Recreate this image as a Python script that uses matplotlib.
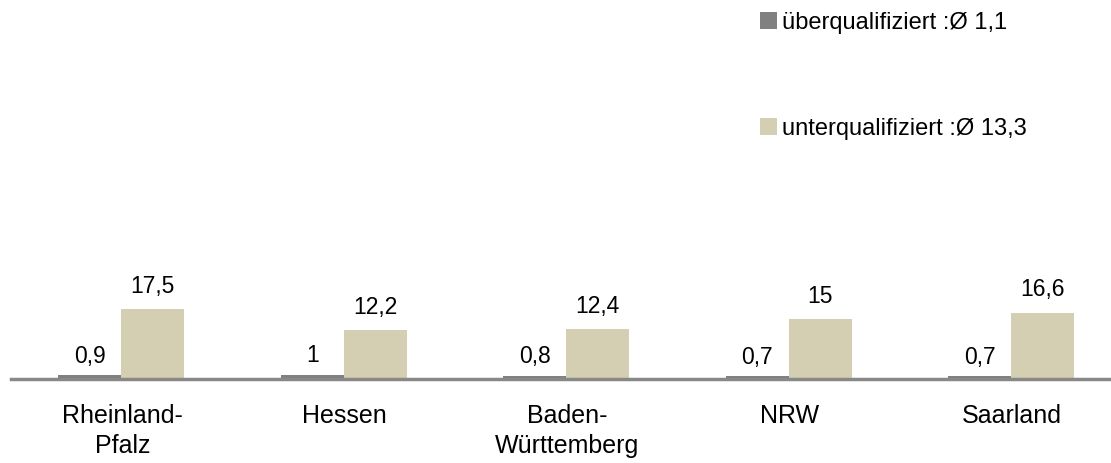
import matplotlib
matplotlib.use("Agg")
import matplotlib.pyplot as plt
import numpy as np

plt.rcParams['font.family'] = ['Liberation Sans', 'DejaVu Sans']

categories = ["Rheinland-\nPfalz", "Hessen", "Baden-\nWürttemberg", "NRW", "Saarland"]
ueber = [0.9, 1.0, 0.8, 0.7, 0.7]
unter = [17.5, 12.2, 12.4, 15.0, 16.6]
ueber_labels = ["0,9", "1", "0,8", "0,7", "0,7"]
unter_labels = ["17,5", "12,2", "12,4", "15", "16,6"]
legend_labels = ["überqualifiziert :Ø 1,1", "unterqualifiziert :Ø 13,3"]

c_ueber = "#808080"
c_unter = "#D4CFB3"

W, H = 1111, 463
fig = plt.figure(figsize=(W/100, H/100), dpi=100)
ax = fig.add_axes([11/W, (H-379)/H, 1112.5/W, 379/H])

x = np.arange(len(categories))
bw = 0.283
b1 = ax.bar(x - bw/2 - 0.005, ueber, bw, color=c_ueber, label=legend_labels[0])
b2 = ax.bar(x + bw/2 - 0.005, unter, bw, color=c_unter, label=legend_labels[1])

for rect, lab in zip(b1, ueber_labels):
    ax.annotate(lab, (rect.get_x() + rect.get_width()/2, rect.get_height()),
                xytext=(0, 5.5), textcoords="offset points", ha="center", va="bottom", fontsize=16.5)
for rect, lab in zip(b2, unter_labels):
    ax.annotate(lab, (rect.get_x() + rect.get_width()/2, rect.get_height()),
                xytext=(0, 8.0), textcoords="offset points", ha="center", va="bottom", fontsize=16.5)

ax.set_xlim(-0.5, len(categories) - 0.5)
ax.set_ylim(0, 379/4.0)
ax.set_xticks(x)
ax.set_xticklabels(categories, fontsize=18, linespacing=1.32)
ax.tick_params(axis="x", length=0, pad=18)
ax.set_yticks([])
for s in ["top", "right", "left"]:
    ax.spines[s].set_visible(False)
ax.spines["bottom"].set_color("#888888")
ax.spines["bottom"].set_linewidth(2.5)

leg = ax.legend(loc="upper left", bbox_to_anchor=(760/W, 1 - 12/H), bbox_transform=fig.transFigure,
                frameon=False, fontsize=17, handlelength=0.7, handleheight=0.75,
                handletextpad=0.25, labelspacing=3.55, borderpad=0, borderaxespad=0)

fig.savefig("out.png", dpi=100)
